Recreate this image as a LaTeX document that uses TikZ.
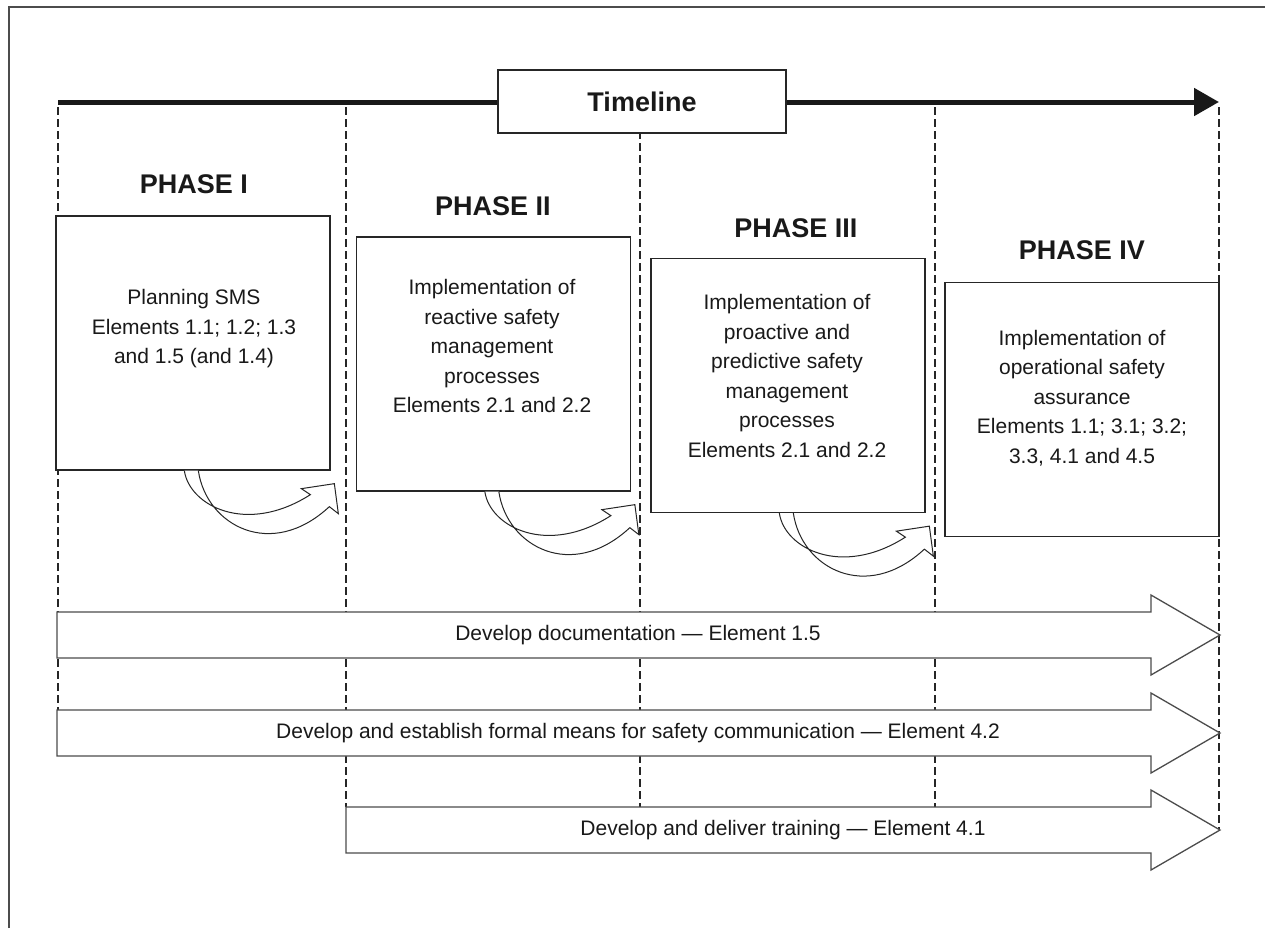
\documentclass[tikz,border=0pt]{standalone}
\usepackage{fontspec}
\setmainfont{Liberation Sans}
\usetikzlibrary{arrows.meta}

\tikzset{
  phasebox/.style={draw=black!85, line width=0.65pt, fill=white, minimum width=137pt, minimum height=127pt, inner sep=0pt},
  phasetitle/.style={font=\fontsize{13.5}{16}\selectfont\bfseries, text=black!90},
  phasetext/.style={align=center, font=\fontsize{10.5}{14.75}\selectfont, text=black!90},
  bandarrow/.style={draw=black!70, line width=0.65pt, fill=white},
  bandtext/.style={font=\fontsize{10.5}{12.6}\selectfont, text=black!90},
  cutline/.style={draw=black!85, line width=0.95pt, dash pattern=on 4pt off 2pt},
  turnarrow/.style={draw=black!85, line width=0.5pt, fill=white}
}

% curved hand-over arrow below a phase box
\newcommand{\phaseturn}[1]{%
\begin{scope}[shift={(#1.south west)}, xshift=63.5pt]
\filldraw[turnarrow] (2,0) .. controls (7,35) and (64,65) .. (128,24) -- (119,18) -- (152,13) -- (156,43) -- (147,36) .. controls (89,90) and (24,55) .. (16,0);
\end{scope}}

\begin{document}
\begin{tikzpicture}[scale=1.000000,x=0.5pt,y=-0.5pt]
\useasboundingbox (0,0) rectangle (1265,928);
% Drawing frame
\draw[color=black!70, line width=0.75pt] (9,928) -- (9,7) -- (1265,7);
% Drawing timeline
\draw[color=black!90, line width=2.5pt, -{Triangle[length=12.5pt,width=13.5pt]}] (58,102) -- (1219,102);
% Drawing phase borders
\draw[cutline] (58,107) -- (58,710);
\draw[cutline] (346,107) -- (346,807);
\draw[cutline] (640,107) -- (640,807);
\draw[cutline] (935,107) -- (935,807);
\draw[cutline] (1219,107) -- (1219,831);
\node[draw=black!85, line width=0.65pt, fill=white, minimum width=144pt, minimum height=31.5pt, font=\fontsize{13.5}{16}\selectfont\bfseries, text=black!90] (timeline) at (642,101.5) {Timeline};
% Done with timeline; drawing phases
% Phase I
\node[phasetitle] (t1) at (194,184) {PHASE I};
\node[phasebox] (p1) at (193,343) {};
\node[phasetext] (x1) at (194,329) {Planning SMS\\Elements 1.1; 1.2; 1.3\\and 1.5 (and 1.4)};
% Phase II
\node[phasetitle] (t2) at (493,206) {PHASE II};
\node[phasebox] (p2) at (493.5,364) {};
\node[phasetext] (x2) at (492,346) {Implementation of\\reactive safety\\management\\processes\\Elements 2.1 and 2.2};
% Phase III
\node[phasetitle] (t3) at (796,228) {PHASE III};
\node[phasebox] (p3) at (788,385.5) {};
\node[phasetext] (x3) at (787,376) {Implementation of\\proactive and\\predictive safety\\management\\processes\\Elements 2.1 and 2.2};
% Phase IV
\node[phasetitle] (t4) at (1082,250) {PHASE IV};
\node[phasebox] (p4) at (1082,409.5) {};
\node[phasetext] (x4) at (1082,398) {Implementation of\\operational safety\\assurance\\Elements 1.1; 3.1; 3.2;\\3.3, 4.1 and 4.5};
% Done with phases; drawing hand-over arrows
\phaseturn{p1}
\phaseturn{p2}
\phaseturn{p3}
% Done with hand-over arrows; drawing activity bands
\filldraw[bandarrow] (57,612) -- (1151,612) -- (1151,595) -- (1220,635) -- (1151,675) -- (1151,658) -- (57,658) -- cycle;
\node[bandtext] (docband) at (638,635) {Develop documentation — Element 1.5};
\filldraw[bandarrow] (57,710) -- (1151,710) -- (1151,693) -- (1220,733) -- (1151,773) -- (1151,756) -- (57,756) -- cycle;
\node[bandtext] (comband) at (638,733) {Develop and establish formal means for safety communication — Element 4.2};
\filldraw[bandarrow] (346,807) -- (1151,807) -- (1151,790) -- (1220,830) -- (1151,870) -- (1151,853) -- (346,853) -- cycle;
\node[bandtext] (trainband) at (783,830) {Develop and deliver training — Element 4.1};
% Done with bands
\end{tikzpicture}
\end{document}
